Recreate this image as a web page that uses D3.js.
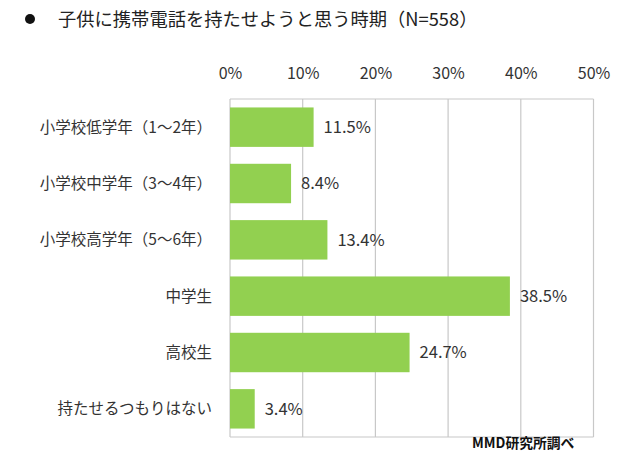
<!DOCTYPE html>
<html><head><meta charset="utf-8">
<script src="https://cdn.jsdelivr.net/npm/d3@7"></script>
<style>
html,body{margin:0;padding:0;background:#fff;}
svg{display:block;font-family:"Noto Sans CJK JP","Noto Sans",sans-serif;}
</style></head>
<body><svg id="c" width="640" height="467"></svg>
<script>
const title = "子供に携帯電話を持たせようと思う時期（N=558）";
const categories = ["小学校低学年（1～2年）","小学校中学年（3～4年）","小学校高学年（5～6年）","中学生","高校生","持たせるつもりはない"];
const values = [11.5, 8.4, 13.4, 38.5, 24.7, 3.4];
const ticks = [0, 10, 20, 30, 40, 50];
const source = "MMD研究所調べ";

const svg = d3.select("#c");
const x = d3.scaleLinear().domain([0, 50]).range([230, 593.5]);
const y = d3.scaleBand().domain(categories).range([99, 437]).paddingInner(0.3).paddingOuter(0.15);

// title
svg.append("circle").attr("cx", 30).attr("cy", 19).attr("r", 5).attr("fill", "#111");
svg.append("text").attr("x", 58).attr("y", 26).attr("font-size", 18.3).attr("fill", "#222").text(title);

// grid box
const grid = svg.append("g").attr("stroke", "#c8c8c8").attr("stroke-width", 1.2).attr("fill", "none");
grid.selectAll("line.v").data(ticks).join("line").attr("class","v")
  .attr("x1", d => x(d)).attr("x2", d => x(d)).attr("y1", 99).attr("y2", 437);
grid.append("line").attr("x1", x(0)).attr("x2", x(50)).attr("y1", 99).attr("y2", 99);
grid.append("line").attr("x1", x(0)).attr("x2", x(50)).attr("y1", 437).attr("y2", 437);

// top axis labels
const axis = d3.axisTop(x).tickValues(ticks).tickFormat(d => d + "%").tickSize(0).tickPadding(0);
const ag = svg.append("g").attr("transform", "translate(0,79)").call(axis);
ag.select(".domain").remove();
ag.selectAll("text").attr("font-size", 16).attr("fill", "#333").attr("font-family", "\"Noto Sans CJK JP\",sans-serif").attr("dy", 0);

// bars
svg.selectAll("rect.bar").data(values).join("rect").attr("class","bar")
  .attr("x", x(0)).attr("y", (d,i) => y(categories[i]))
  .attr("width", d => x(d) - x(0)).attr("height", y.bandwidth())
  .attr("fill", "#92d050");

// value labels
svg.selectAll("text.val").data(values).join("text").attr("class","val")
  .attr("x", d => x(d) + 10).attr("y", (d,i) => y(categories[i]) + y.bandwidth()/2)
  .attr("dy", "0.36em").attr("font-size", 16.5).attr("fill", "#333")
  .text(d => d.toFixed(1) + "%");

// category labels
svg.selectAll("text.cat").data(categories).join("text").attr("class","cat")
  .attr("x", 212).attr("y", d => y(d) + y.bandwidth()/2)
  .attr("dy", "0.36em").attr("text-anchor", "end").attr("font-size", 15.5).attr("fill", "#333")
  .text(d => d);

// source
svg.append("text").attr("x", 472).attr("y", 448).attr("font-size", 13.8).attr("font-weight", "bold").attr("fill", "#111").text(source);
</script></body></html>
